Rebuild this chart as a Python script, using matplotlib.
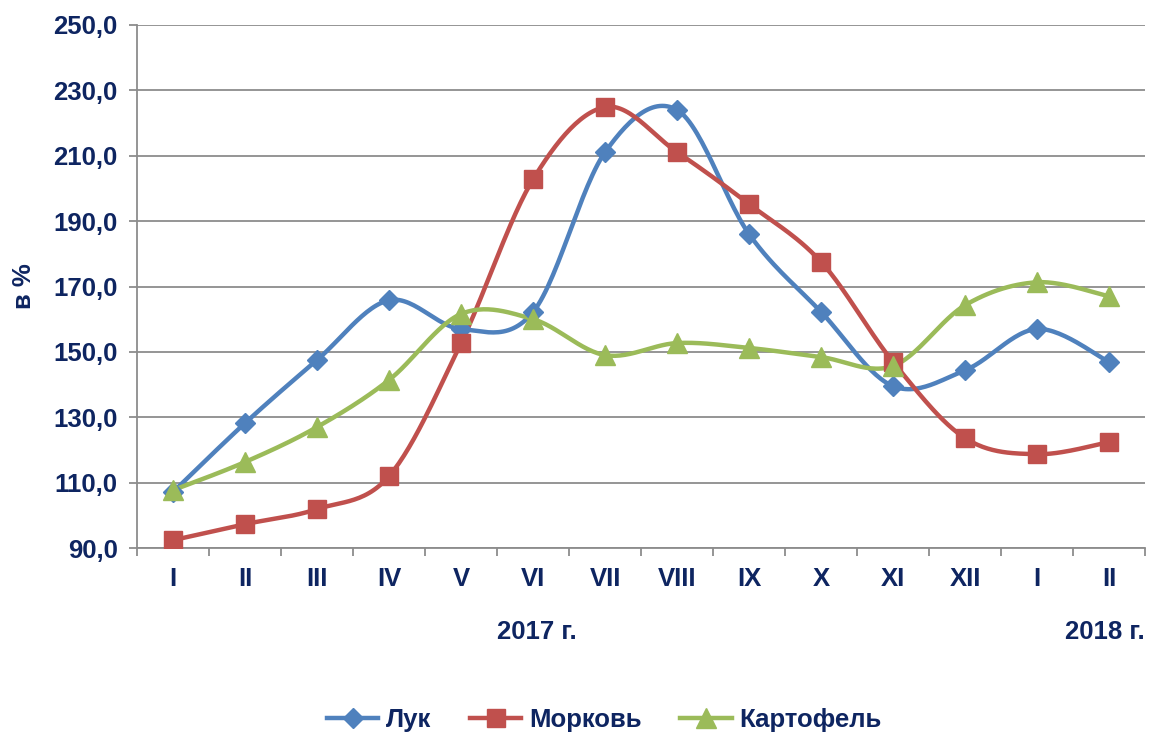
import numpy as np
import matplotlib
matplotlib.use('Agg')
import matplotlib.pyplot as plt

plt.rcParams['font.family'] = ['Liberation Sans', 'DejaVu Sans']
plt.rcParams['font.weight'] = 'bold'

months = ['I', 'II', 'III', 'IV', 'V', 'VI', 'VII', 'VIII', 'IX', 'X', 'XI', 'XII', 'I', 'II']
luk = [107.1, 128.2, 147.5, 165.8, 157.0, 162.2, 211.1, 224.0, 186.0, 162.2, 139.5, 144.4, 157.0, 146.9]
morkov = [92.4, 97.3, 101.9, 112.0, 152.7, 202.8, 224.9, 211.1, 195.2, 177.5, 146.9, 123.6, 118.7, 122.4]
kartofel = [107.7, 116.3, 127.0, 141.4, 161.6, 160.0, 149.0, 152.7, 151.2, 148.4, 145.7, 164.3, 171.3, 167.0]
series_names = ['Лук', 'Морковь', 'Картофель']

navy = '#0E2561'
colors = ['#4F81BD', '#C0504D', '#9BBB59']
markers = ['D', 's', '^']
msizes = [10.5, 13.5, 14.5]


def smooth(y, n=30):
    # bezier smoothing like the spreadsheet "smoothed line" option
    x = np.arange(len(y), dtype=float)
    y = np.asarray(y, dtype=float)
    pts = np.column_stack([x, y])
    out = [pts[0]]
    for i in range(len(pts) - 1):
        p0 = pts[i - 1] if i > 0 else pts[i]
        p1 = pts[i]
        p2 = pts[i + 1]
        p3 = pts[i + 2] if i + 2 < len(pts) else pts[i + 1]
        c1 = p1 + (p2 - p0) / 6
        c2 = p2 - (p3 - p1) / 6
        t = np.linspace(0, 1, n)[1:, None]
        seg = ((1 - t) ** 3) * p1 + 3 * ((1 - t) ** 2) * t * c1 + 3 * (1 - t) * t ** 2 * c2 + t ** 3 * p2
        out.extend(seg)
    out = np.array(out)
    return out[:, 0], out[:, 1]


fig = plt.figure(figsize=(11.51, 7.35), dpi=100)
ax = fig.add_axes([0.119, 0.2544, 0.876, 0.7116])

x = np.arange(len(months))
for vals, name, c, m, ms in zip([luk, morkov, kartofel], series_names, colors, markers, msizes):
    sx, sy = smooth(vals)
    ax.plot(sx, sy, '-', color=c, lw=3.2, zorder=3)
    ax.plot(x, vals, linestyle='none', marker=m, color=c, markersize=ms, zorder=4)
    ax.plot([], [], '-', color=c, lw=3.2, marker=m, markersize=ms * 0.95, label=name)

ax.set_xlim(-0.5, len(months) - 0.5)
ax.set_ylim(90, 250)
ax.set_yticks(np.arange(90, 251, 20))
ax.set_yticklabels([f'{v:.1f}'.replace('.', ',') for v in np.arange(90, 251, 20)])
ax.yaxis.grid(True, color='#8C8C8C', lw=1.3)
ax.set_axisbelow(True)

ax.set_xticks(x)
ax.set_xticklabels(months)
ax.set_xticks(np.arange(-0.5, len(months), 1), minor=True)
ax.tick_params(axis='x', which='major', length=0, pad=14, labelsize=18.5, labelcolor=navy)
ax.tick_params(axis='x', which='minor', length=6, width=1.3, color='#8C8C8C', direction='out')
ax.tick_params(axis='y', length=6, width=1.3, color='#8C8C8C', pad=8, labelsize=18.5, labelcolor=navy)

for s in ['top', 'right']:
    ax.spines[s].set_visible(False)
for s in ['left', 'bottom']:
    ax.spines[s].set_color('#8C8C8C')
    ax.spines[s].set_linewidth(1.3)

ax.set_ylabel('в %', fontsize=18.5, color=navy, fontweight='bold', labelpad=12)

fig.text(537 / 1151, 1 - 632 / 735, '2017 г.', ha='center', va='center', fontsize=18.5, color=navy, fontweight='bold')
fig.text(1105 / 1151, 1 - 632 / 735, '2018 г.', ha='center', va='center', fontsize=18.5, color=navy, fontweight='bold')

leg = fig.legend(loc='center', bbox_to_anchor=(0.525, 1 - 720 / 735), ncol=3, frameon=False,
                 fontsize=18.5, handlelength=2.0, handletextpad=0.3, columnspacing=1.5)
for t in leg.get_texts():
    t.set_color(navy)
    t.set_fontweight('bold')

fig.savefig('out.png', dpi=100)
